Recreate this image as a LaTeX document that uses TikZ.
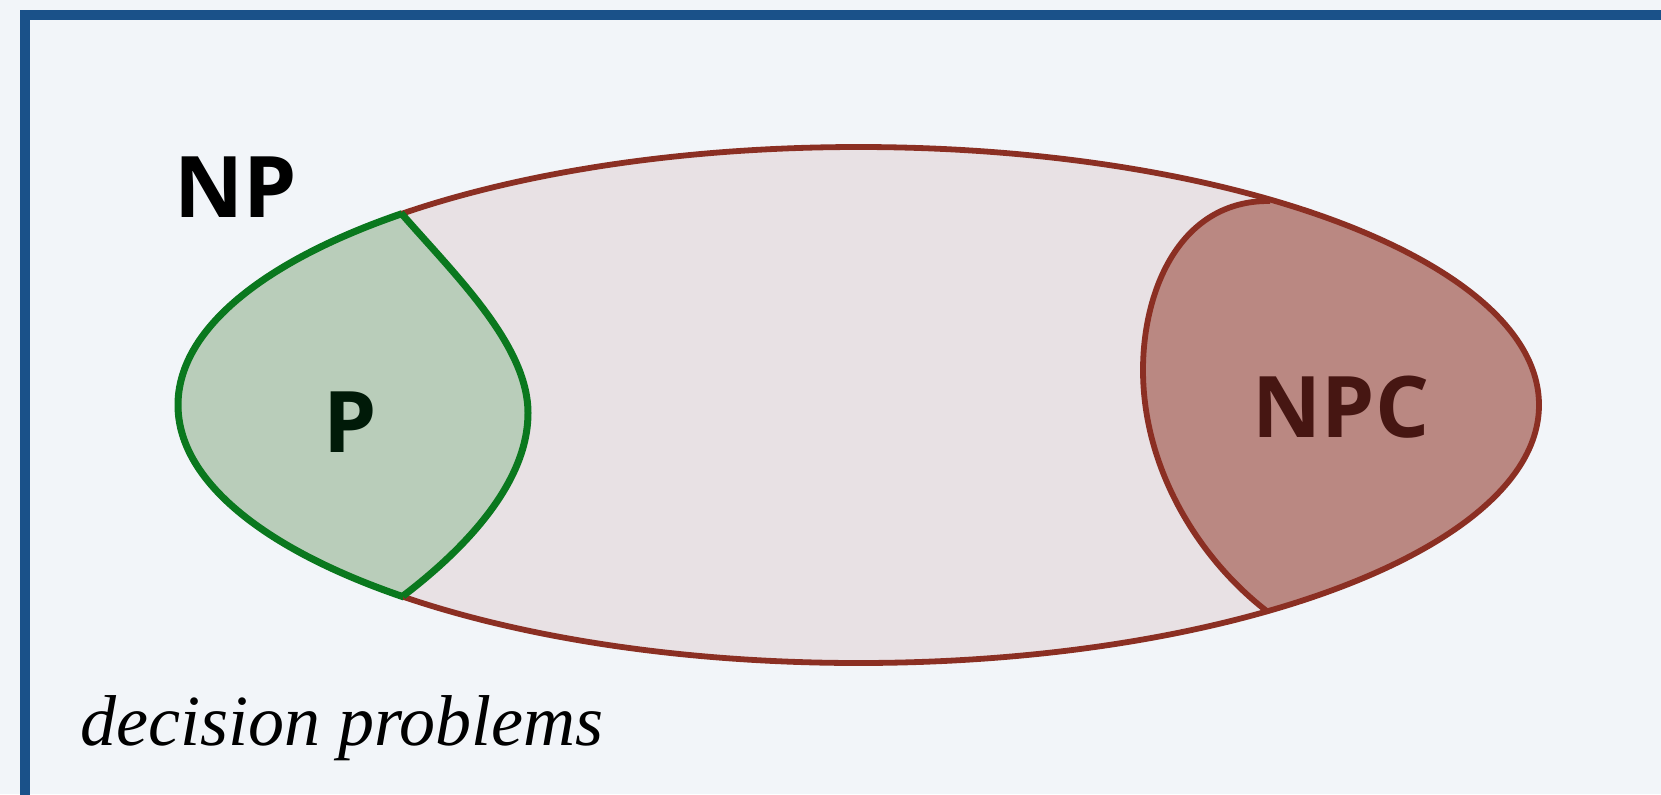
\documentclass[tikz,border=0pt]{standalone}
\usepackage{fontspec}
\newfontfamily\classfont{Open Sans}
\newfontfamily\notefont{Liberation Serif}

\definecolor{pagebg}{HTML}{F2F5F9}
\definecolor{framecol}{HTML}{1A5189}
\definecolor{npfillcol}{HTML}{E8E1E4}
\definecolor{npline}{HTML}{8B2F23}
\definecolor{pfillcol}{HTML}{B9CDBA}
\definecolor{plinecol}{HTML}{0A781E}
\definecolor{ptextcol}{HTML}{001A08}
\definecolor{npcfillcol}{HTML}{BA8882}
\definecolor{npctextcol}{HTML}{461612}

\tikzset{
  frameline/.style={draw=framecol, line width=5.25pt},
  npborder/.style={draw=npline, line width=2.9pt},
  pborder/.style={draw=plinecol, line width=3.5pt, line join=miter},
  classlabel/.style={inner sep=0pt, anchor=base,
    font=\classfont\bfseries\fontsize{42.5}{50}\selectfont},
  notelabel/.style={inner sep=0pt, anchor=base west,
    font=\notefont\itshape\fontsize{36}{42}\selectfont},
}

\begin{document}
\begin{tikzpicture}[x=0.5pt, y=-0.5pt]
  \useasboundingbox (0,0) rectangle (1661,794);
  \fill[pagebg] (0,0) rectangle (1661,794);

  % outer frame, running off the page on the right and at the bottom
  \begin{scope}
    \clip (0,0) rectangle (1661,794);
    \draw[frameline] (25,14.8) rectangle (1720,860);
  \end{scope}

  % corners where the inner classes meet the NP boundary
  \coordinate (pTop) at (401,213);
  \coordinate (pBot) at (403,596);
  \coordinate (nTop) at (1270,201);
  \coordinate (nBot) at (1268,612);

  % NP region
  \fill[npfillcol] (858.5,405) ellipse [x radius=680.5, y radius=258];

  % P region: left part of NP
  \begin{scope}
    \clip (858.5,405) ellipse [x radius=680.5, y radius=258];
    \fill[pfillcol] (pTop) .. controls (455,275) and (528,345) .. (528,413)
      .. controls (528,480) and (470,545) .. (pBot)
      -- (403,900) -- (-50,900) -- (-50,-50) -- (401,-50) -- cycle;
  \end{scope}

  % NPC region: right part of NP
  \begin{scope}
    \clip (858.5,405) ellipse [x radius=680.5, y radius=258];
    \fill[npcfillcol] (nTop) .. controls (1180,200) and (1143,290) .. (1143,370)
      .. controls (1143,470) and (1200,560) .. (nBot)
      -- (1268,900) -- (1720,900) -- (1720,-50) -- (1270,-50) -- cycle;
  \end{scope}

  % NP boundary and the NPC inner boundary
  \draw[npborder] (858.5,405) ellipse [x radius=680.5, y radius=258];
  \draw[npborder] (nTop) .. controls (1180,200) and (1143,290) .. (1143,370)
      .. controls (1143,470) and (1200,560) .. (nBot);

  % P boundary: the left arc of NP plus the inner curve
  \begin{scope}
    \clip (pTop) .. controls (455,275) and (528,345) .. (528,413)
      .. controls (528,480) and (470,545) .. (pBot)
      -- (403,900) -- (-50,900) -- (-50,-50) -- (401,-50) -- cycle;
    \draw[pborder] (858.5,405) ellipse [x radius=680.5, y radius=258];
  \end{scope}
  \draw[pborder] (pTop) .. controls (455,275) and (528,345) .. (528,413)
      .. controls (528,480) and (470,545) .. (pBot);

  % labels
  \node[classlabel, text=black] (np) at (236,217) {NP};
  \node[classlabel, text=ptextcol] (p) at (350,452) {P};
  \node[classlabel, text=npctextcol] (npc) at (1341,437) {NPC};
  \node[notelabel] (decision) at (80,745) {decision problems};
\end{tikzpicture}
\end{document}
